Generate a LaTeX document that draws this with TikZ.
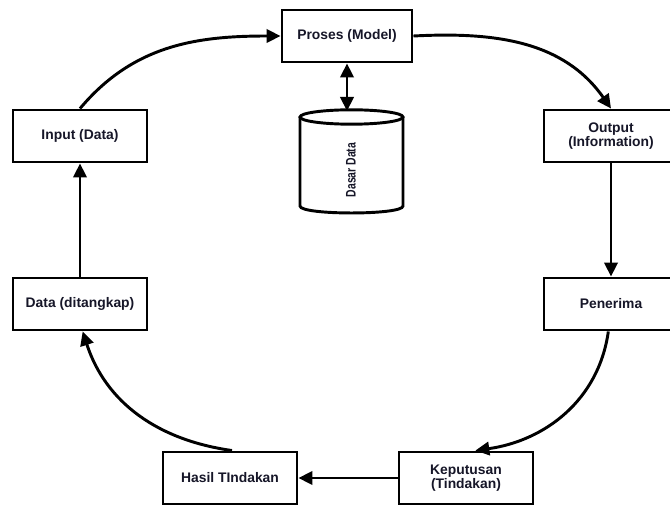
\documentclass[tikz,border=0pt]{standalone}
\usepackage{fontspec}
\setmainfont{Liberation Sans}
\usetikzlibrary{arrows.meta}
\definecolor{textc}{RGB}{22,22,40}
\begin{document}
\begin{tikzpicture}[x=0.75pt,y=0.75pt,
  box/.style={draw=black, line width=2.2pt, fill=white, minimum width=100.5pt, minimum height=39pt,
    inner sep=0pt, align=center, text=textc, font=\fontsize{10.4}{10.8}\selectfont\bfseries},
  conn/.style={line width=2.2pt, -{Triangle[length=10.5pt,width=10pt]}},
  dconn/.style={line width=2.2pt, {Triangle[length=10.5pt,width=10pt]}-{Triangle[length=10.5pt,width=10pt]}}]
\fill[white] (0,0) rectangle (670,504);
\useasboundingbox (0,0) rectangle (670,504);
% boxes
\node[box, minimum width=97.5pt] (proses) at (347,468) {Proses (Model)};
\node[box] (input) at (80,368) {Input (Data)};
\node[box] (output) at (611,368) {Output\\(Information)};
\node[box] (data) at (80,200) {Data (ditangkap)};
\node[box] (penerima) at (611,200) {Penerima};
\node[box] (hasil) at (230,26) {Hasil TIndakan};
\node[box] (keputusan) at (466,26) {Keputusan\\(Tindakan)};
% cylinder
\draw[line width=2.2pt, fill=white] (300,387) -- (300,298)
  .. controls (300,288.7) and (403,288.7) .. (403,298) -- (403,387);
\draw[line width=2.2pt] (351.5,387) ellipse [x radius=38.6pt, y radius=5.4pt];
\node[rotate=90, text=textc, font=\fontsize{10.4}{10.8}\selectfont\bfseries] (dasar) at (351,334) {\scalebox{0.75}[1]{Dasar Data}};
\coordinate (dbtop) at (347,393);
% connectors
\draw[dconn] (proses.south) -- (dbtop);
\draw[conn] (input.north) to[out=50,in=180] (proses.west);
\draw[conn] (proses.east) to[out=3,in=125] (output.north);
\draw[conn] (output.south) -- (penerima.north);
\draw[conn] ([xshift=-2pt]penerima.south) to[out=-98,in=8] ([xshift=7pt]keputusan.north);
\draw[conn] (keputusan.west) -- (hasil.east);
\draw[conn] ([xshift=1.5pt]hasil.north) to[out=172,in=-72] ([xshift=2pt]data.south);
\draw[conn] (data.north) -- (input.south);
\end{tikzpicture}
\end{document}
